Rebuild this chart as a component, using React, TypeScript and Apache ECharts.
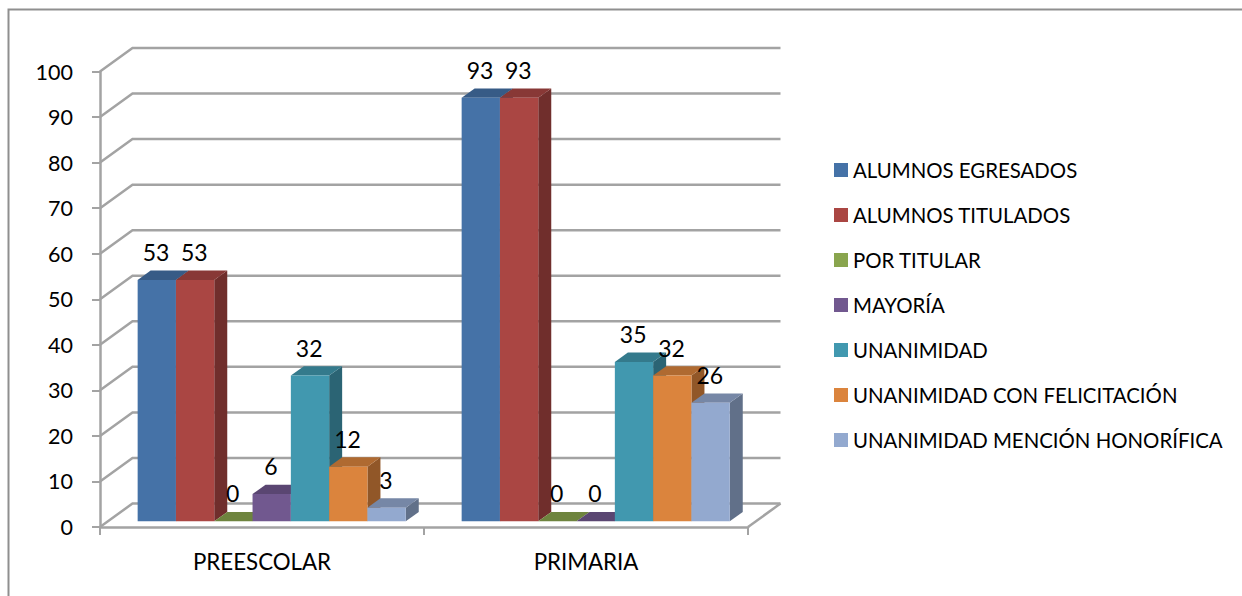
import React, { useEffect, useRef } from "react";
import * as echarts from "echarts";

const categories = ["PREESCOLAR", "PRIMARIA"];
const seriesNames = [
  "ALUMNOS EGRESADOS",
  "ALUMNOS TITULADOS",
  "POR TITULAR",
  "MAYORÍA",
  "UNANIMIDAD",
  "UNANIMIDAD CON FELICITACIÓN",
  "UNANIMIDAD MENCIÓN HONORÍFICA",
];
const alumnosEgresados = [53, 93];
const alumnosTitulados = [53, 93];
const porTitular = [0, 0];
const mayoria = [6, 0];
const unanimidad = [32, 35];
const unanimidadFelicitacion = [12, 32];
const unanimidadMencion = [3, 26];
const seriesValues = [
  alumnosEgresados,
  alumnosTitulados,
  porTitular,
  mayoria,
  unanimidad,
  unanimidadFelicitacion,
  unanimidadMencion,
];
const yTicks = [0, 10, 20, 30, 40, 50, 60, 70, 80, 90, 100];
const colors = ["#4572A7", "#AA4643", "#89A54E", "#71588F", "#4198AF", "#DB843D", "#93A9CF"];

const FONT = "Lato";
const GRID_COLOR = "#a3a3a3";
const WALL_DX = 32.5;
const WALL_DY = -23.5;
const BAR_W = 38.3;
const BAR_DX = 13;
const BAR_DY = -9.3;
const BAR_OFFSET_X = 9.7;
const BAR_OFFSET_Y = -5.7;

function shade(hex: string, k: number) {
  const n = parseInt(hex.slice(1), 16);
  const c = [(n >> 16) & 255, (n >> 8) & 255, n & 255].map((v) => Math.round(v * k));
  return `rgb(${c[0]},${c[1]},${c[2]})`;
}

function barRenderer(seriesIndex: number) {
  const color = colors[seriesIndex];
  return (_params: any, api: any) => {
    const top = api.coord([api.value(0), api.value(1)]);
    const base = api.coord([api.value(0), 0]);
    const x0 = top[0] + BAR_OFFSET_X + (seriesIndex - 3.5) * BAR_W;
    const x1 = x0 + BAR_W;
    const yT = top[1] + BAR_OFFSET_Y;
    const yB = base[1] + BAR_OFFSET_Y;
    return {
      type: "group",
      children: [
        {
          type: "polygon",
          shape: { points: [[x1, yT], [x1 + BAR_DX, yT + BAR_DY], [x1 + BAR_DX, yB + BAR_DY], [x1, yB]] },
          style: { fill: shade(color, 0.66) },
        },
        {
          type: "polygon",
          shape: { points: [[x0, yT], [x0 + BAR_DX, yT + BAR_DY], [x1 + BAR_DX, yT + BAR_DY], [x1, yT]] },
          style: { fill: shade(color, 0.8) },
        },
        {
          type: "rect",
          shape: { x: x0, y: yT, width: BAR_W, height: yB - yT },
          style: { fill: color },
        },
        {
          type: "text",
          z2: 100,
          style: {
            text: String(api.value(1)),
            x: (x0 + x1) / 2 - 0.8,
            y: yT - 28,
            align: "center",
            verticalAlign: "middle",
            fontFamily: FONT,
            fontSize: 23,
            fill: "#000",
          },
        },
      ],
    };
  };
}

function wallRenderer(params: any, api: any) {
  const cs = params.coordSys;
  const y = api.coord([0, api.value(1)])[1];
  const lineStyle = { stroke: GRID_COLOR, lineWidth: 2.5, fill: "none" };
  const children: any[] = [
    {
      type: "polyline",
      shape: {
        points: [
          [cs.x, y],
          [cs.x + WALL_DX, y + WALL_DY],
          [cs.x + cs.width + WALL_DX, y + WALL_DY],
        ],
      },
      style: lineStyle,
    },
  ];
  if (api.value(1) === 0) {
    children.push({
      type: "line",
      shape: { x1: cs.x + cs.width, y1: y, x2: cs.x + cs.width + WALL_DX, y2: y + WALL_DY },
      style: lineStyle,
    });
  }
  return { type: "group", children };
}

export default function App() {
  const ref = useRef<HTMLDivElement>(null);
  useEffect(() => {
    const chart = echarts.init(ref.current!, undefined, { renderer: "svg" });
    chart.setOption({
      animation: false,
      backgroundColor: "#fff",
      graphic: [
        {
          type: "polyline",
          z: -1,
          silent: true,
          shape: { points: [[8.5, 596], [8.5, 9.5], [1242, 9.5]] },
          style: { stroke: "#8f8f8f", lineWidth: 2, fill: "none" },
        },
      ],
      grid: { left: 100, top: 71.5, width: 648, height: 455.5 },
      legend: {
        left: 829,
        top: 155,
        orient: "vertical",
        icon: "rect",
        itemWidth: 14,
        itemHeight: 14,
        itemGap: 25,
        data: seriesNames,
        selectedMode: false,
        textStyle: { fontFamily: FONT, fontSize: 20.4, lineHeight: 18, color: "#000" },
      },
      xAxis: {
        type: "category",
        data: categories,
        axisLine: { lineStyle: { color: GRID_COLOR, width: 2.5 } },
        axisTick: { show: true, length: 8, lineStyle: { color: GRID_COLOR, width: 2 } },
        axisLabel: { fontFamily: FONT, fontSize: 22.3, color: "#000", margin: 23 },
        splitLine: { show: false },
      },
      yAxis: {
        type: "value",
        min: 0,
        max: 100,
        interval: 10,
        axisLine: { show: true, lineStyle: { color: GRID_COLOR, width: 2.5 } },
        axisTick: { show: true, length: 8, lineStyle: { color: GRID_COLOR, width: 2 } },
        axisLabel: { fontFamily: FONT, fontSize: 21.5, color: "#000", margin: 27, lineHeight: 26, padding: [3, 0, 0, 0] },
        splitLine: { show: false },
      },
      series: [
        {
          type: "custom",
          name: "wall",
          silent: true,
          z: 1,
          data: yTicks.map((t) => [0, t]),
          encode: { x: 0, y: 1 },
          renderItem: wallRenderer,
        },
        ...seriesNames.map((name, i) => ({
          type: "custom",
          name,
          z: 3,
          itemStyle: { color: colors[i] },
          data: seriesValues[i].map((v, c) => [c, v]),
          encode: { x: 0, y: 1 },
          renderItem: barRenderer(i),
        })),
      ],
    });
    return () => chart.dispose();
  }, []);
  return <div ref={ref} style={{ position: "absolute", left: 0, top: 0, width: 1242, height: 596 }} />;
}
